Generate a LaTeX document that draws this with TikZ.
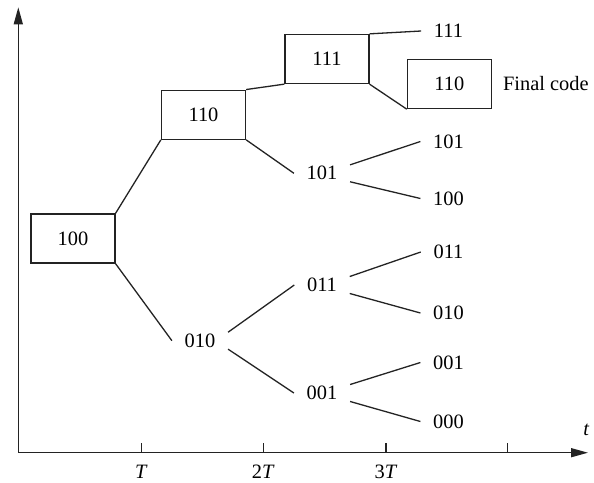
\documentclass[tikz,border=0pt]{standalone}
\usepackage{fontspec}
\setmainfont{Liberation Serif}
\usepackage{tikz}
\usetikzlibrary{arrows.meta, positioning, calc}
\definecolor{mydark}{RGB}{35,35,35}
\tikzset{
  codebox/.style={rectangle, draw=mydark, line width=0.65pt,
    minimum width=42pt, minimum height=24.5pt, inner sep=0pt,
    font=\fontsize{10.2}{12}\selectfont},
  code/.style={rectangle, inner xsep=6.2pt, inner ysep=0.6pt,
    font=\fontsize{10.2}{12}\selectfont},
  branch/.style={draw=mydark, line width=0.65pt},
  axis/.style={draw=mydark, line width=0.7pt, -{Triangle[length=8.5pt, width=4.5pt]}},
  tick/.style={draw=mydark, line width=0.65pt},
  ticklabel/.style={font=\fontsize{10.2}{12}\selectfont}
}

\begin{document}
\begin{tikzpicture}[x=0.5pt, y=-0.5pt]
  \useasboundingbox (0,0) rectangle (594,482);

  % Axes
  \coordinate (origin) at (18.3,452.7);
  \coordinate (ytop) at (18.3,7.3);
  \coordinate (xend) at (588,452.7);
  \draw[axis] (origin) -- (ytop);
  \draw[axis] (origin) -- (xend);
  \foreach \x in {141.7,263.3,386,507.7}
    \draw[tick] (\x,452.7) -- (\x,442.7);
  \node[ticklabel] (lblT) at (141.5,471.7) {\textit{T}};
  \node[ticklabel] (lbl2T) at (263.3,471.7) {2\textit{T}};
  \node[ticklabel] (lbl3T) at (386,471.7) {3\textit{T}};
  \node[ticklabel] (lblt) at (586.5,430) {\textit{t}};

  % Boxed path (decoded sequence)
  \node[codebox] (b100) at (72.9,238.5) {100};
  \node[codebox] (b110) at (203.5,114.7) {110};
  \node[codebox] (b111) at (326.9,59) {111};
  \node[codebox] (bfinal) at (449.4,84) {110};
  \node[ticklabel, anchor=west, inner sep=0pt] (final) at (502.7,83.5) {Final code};

  % Middle column
  \node[code] (m101) at (322,173.3) {101};
  \node[code] (m010) at (200,340.7) {010};
  \node[code] (m011) at (322,285) {011};
  \node[code] (m001) at (322,393) {001};

  % Right column
  \node[code] (r111) at (448.5,31) {111};
  \node[code] (r101) at (448.5,141.5) {101};
  \node[code] (r100) at (448.5,198.5) {100};
  \node[code] (r011) at (448.5,252) {011};
  \node[code] (r010) at (448.5,313) {010};
  \node[code] (r001) at (448.5,362.5) {001};
  \node[code] (r000) at (448.5,421.5) {000};

  % Branches
  \draw[branch] (b100.north east) -- (b110.south west);
  \draw[branch] (b100.south east) -- (m010.west);
  \draw[branch] (b110.north east) -- (b111.south west);
  \draw[branch] (b110.south east) -- (m101.west);
  \draw[branch] (b111.north east) -- (r111.west);
  \draw[branch] (b111.south east) -- (bfinal.south west);
  \draw[branch] (m101.north east) -- (r101.west);
  \draw[branch] (m101.south east) -- (r100.west);
  \draw[branch] (m010.north east) -- (m011.west);
  \draw[branch] (m010.south east) -- (m001.west);
  \draw[branch] (m011.north east) -- (r011.west);
  \draw[branch] (m011.south east) -- (r010.west);
  \draw[branch] (m001.north east) -- (r001.west);
  \draw[branch] (m001.south east) -- (r000.west);
\end{tikzpicture}
\end{document}
